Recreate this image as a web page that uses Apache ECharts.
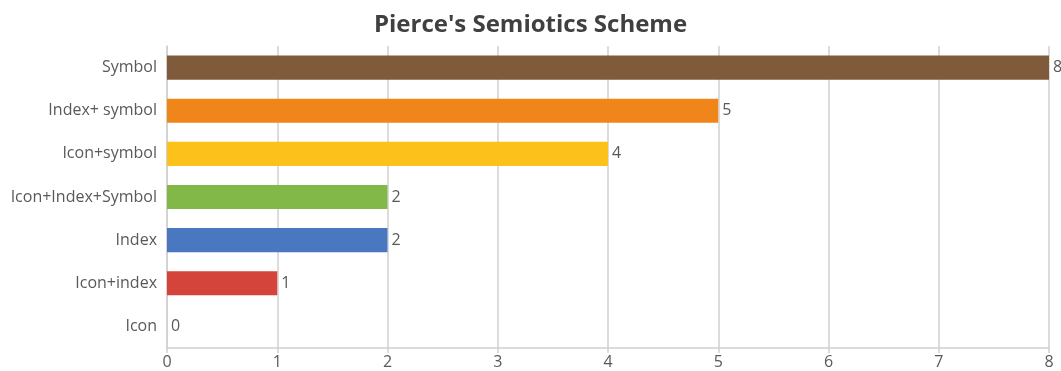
<!DOCTYPE html>
<html>
<head>
<meta charset="utf-8">
<style>
  html, body { margin: 0; padding: 0; background: #fff; }
  #chart { width: 1061px; height: 371px; }
</style>
<script src="https://cdn.jsdelivr.net/npm/echarts@6/dist/echarts.min.js"></script>
</head>
<body>
<div id="chart"></div>
<script>
// Categories listed bottom-to-top (category axis on y starts at the bottom)
const categories = ['Icon', 'Icon+index', 'Index', 'Icon+Index+Symbol', 'Icon+symbol', 'Index+ symbol', 'Symbol'];
const counts = [0, 1, 2, 2, 4, 5, 8];
const barColors = ['#4a78c0', '#d5443b', '#4a78c0', '#82b847', '#fdc11c', '#f0861a', '#7f5b3c'];

const chart = echarts.init(document.getElementById('chart'));
const fontFamily = '"Open Sans", "Noto Sans", sans-serif';

chart.setOption({
  animation: false,
  title: {
    text: "Pierce's Semiotics Scheme",
    left: 'center',
    top: 8,
    textStyle: { fontFamily, fontSize: 24, fontWeight: 'bold', color: '#404040' }
  },
  grid: { left: 167, right: 12, top: 46, bottom: 23 },
  xAxis: {
    type: 'value',
    min: 0,
    max: 8,
    interval: 1,
    axisLine: { show: true, lineStyle: { color: '#d0d0d0', width: 1.5 } },
    axisTick: { show: true, length: 5, lineStyle: { color: '#d0d0d0', width: 1.5 } },
    splitLine: { show: true, lineStyle: { color: '#d0d0d0', width: 1.5 } },
    axisLabel: { fontFamily, fontSize: 16, color: '#595959', margin: 6 }
  },
  yAxis: {
    type: 'category',
    data: categories,
    axisLine: { show: true, lineStyle: { color: '#d0d0d0', width: 1.5 } },
    axisTick: { show: false },
    axisLabel: { fontFamily, fontSize: 16, color: '#595959', margin: 10 }
  },
  series: [{
    type: 'bar',
    data: counts.map((v, i) => ({ value: v, itemStyle: { color: barColors[i] } })),
    barWidth: '56%',
    label: {
      show: true,
      position: 'right',
      distance: 4,
      fontFamily,
      fontSize: 16,
      color: '#595959'
    }
  }]
});
</script>
</body>
</html>
